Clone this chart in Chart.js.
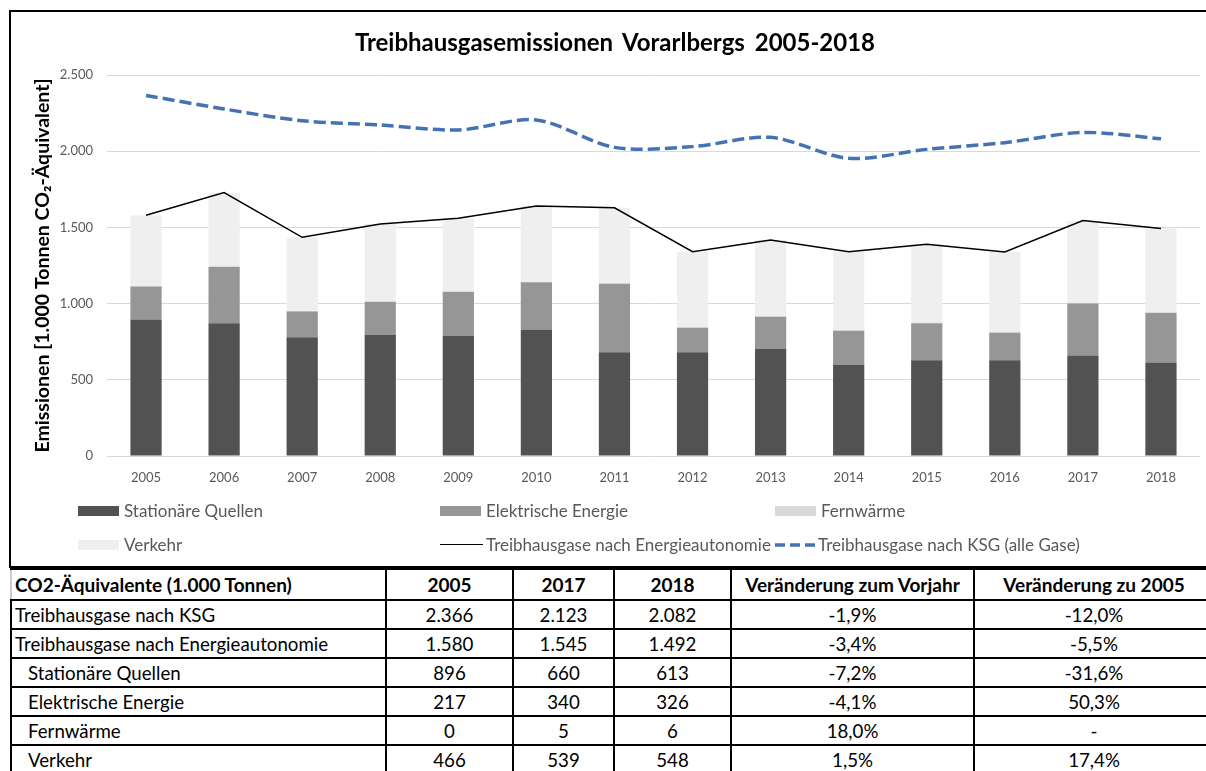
<!DOCTYPE html>
<html lang="de">
<head>
<meta charset="utf-8">
<title>Treibhausgasemissionen Vorarlbergs 2005-2018</title>
<script src="https://cdn.jsdelivr.net/npm/chart.js@4.4.1/dist/chart.umd.min.js"></script>
<style>
  body { margin: 0; background: #fff; font-family: Lato, "Open Sans", sans-serif; }
  #wrap { position: relative; width: 1206px; height: 771px; overflow: hidden; }
  #box { position: absolute; left: 9px; top: 10px; width: 1200px; height: 554px; border: 2px solid #000; border-right: none; }
  #box canvas { position: absolute; left: 0; top: 0; }
  #titel { position: absolute; left: 0; width: 1230px; top: 27px; text-align: center; font-weight: bold; font-size: 24px; word-spacing: 4px; color: #000; }
  #legende { position: absolute; left: 78px; top: 500px; display: grid; grid-template-columns: 362px 335px auto; row-gap: 13px; font-size: 17px; color: #595959; }
  .li { display: flex; align-items: center; height: 21px; white-space: nowrap; }
  .sw { width: 41px; height: 10px; margin-right: 5px; }
  .ln { width: 43px; height: 0; margin-right: 3px; }
  table { position: absolute; left: 10px; top: 568px; border-collapse: collapse; font-size: 18.7px; color: #000; table-layout: fixed; }
  td, th { border: 2px solid #000; padding: 0; height: 27px; text-align: center; font-weight: normal; white-space: nowrap; }
  th { font-weight: bold; height: 29px; font-size: 19px; }
  td:first-child, th:first-child { text-align: left; padding-left: 3px; }
  th:first-child { border-left-color: #ccc; }
  td.sub { padding-left: 16px; }
</style>
</head>
<body>
<div id="wrap">
  <div id="box"><canvas id="chart" width="1195" height="554"></canvas></div>
  <div id="titel">Treibhausgasemissionen Vorarlbergs 2005-2018</div>
  <div id="legende"></div>
  <table id="tabelle"></table>
</div>
<script>
// Werte in 1.000 Tonnen CO2-Äquivalent
const jahre = ['2005', '2006', '2007', '2008', '2009', '2010', '2011', '2012', '2013', '2014', '2015', '2016', '2017', '2018'];
const stationaer = [896, 871, 779, 794, 787, 827, 680, 680, 702, 597, 628, 628, 660, 613];
const elektrisch = [217, 371, 170, 218, 291, 313, 451, 162, 212, 225, 243, 181, 340, 326];
const fernwaerme = [0, 0, 0, 0, 1, 1, 2, 3, 3, 4, 4, 4, 5, 6];
const verkehr = [466, 486, 486, 510, 481, 499, 496, 496, 500, 515, 514, 526, 539, 548];
const energieautonomie = [1580, 1728, 1435, 1522, 1560, 1640, 1629, 1341, 1417, 1341, 1389, 1339, 1545, 1492];
const ksg = [2366, 2277, 2200, 2172, 2139, 2205, 2025, 2030, 2091, 1953, 2012, 2056, 2123, 2082];

// Tabelle
const tabKopf = ['CO2-Äquivalente (1.000 Tonnen)', '2005', '2017', '2018', 'Veränderung zum Vorjahr', 'Veränderung zu 2005'];
const tabZeilen = ['Treibhausgase nach KSG', 'Treibhausgase nach Energieautonomie', 'Stationäre Quellen', 'Elektrische Energie', 'Fernwärme', 'Verkehr'];
const tab2005 = ['2.366', '1.580', '896', '217', '0', '466'];
const tab2017 = ['2.123', '1.545', '660', '340', '5', '539'];
const tab2018 = ['2.082', '1.492', '613', '326', '6', '548'];
const tabVorjahr = ['-1,9%', '-3,4%', '-7,2%', '-4,1%', '18,0%', '1,5%'];
const tabZu2005 = ['-12,0%', '-5,5%', '-31,6%', '50,3%', '-', '17,4%'];
const spaltenBreiten = [375, 127, 101, 117, 243, 240];

const farben = { stat: '#525252', elek: '#969696', fern: '#d9d9d9', verk: '#efefef', ea: '#000000', ksg: '#4472b4' };

function tausender(v) {
    if (v < 1000) return String(v);
    return Math.floor(v / 1000) + '.' + String(v % 1000).padStart(3, '0');
}

Chart.defaults.font.family = 'Lato, "Open Sans", sans-serif';

const ctx = document.getElementById('chart').getContext('2d');
new Chart(ctx, {
    type: 'bar',
    data: {
        labels: jahre,
        datasets: [
            { type: 'line', label: 'Treibhausgase nach KSG (alle Gase)', data: ksg, stack: 'ksg', order: 0,
              borderColor: farben.ksg, borderWidth: 3.5, borderDash: [12, 5], pointRadius: 0, tension: 0.3, fill: false },
            { type: 'line', label: 'Treibhausgase nach Energieautonomie', data: energieautonomie, stack: 'ea', order: 1,
              borderColor: farben.ea, borderWidth: 1.5, pointRadius: 0, tension: 0, fill: false },
            { label: 'Stationäre Quellen', data: stationaer, backgroundColor: farben.stat, stack: 'sum', order: 2 },
            { label: 'Elektrische Energie', data: elektrisch, backgroundColor: farben.elek, stack: 'sum', order: 2 },
            { label: 'Fernwärme', data: fernwaerme, backgroundColor: farben.fern, stack: 'sum', order: 2 },
            { label: 'Verkehr', data: verkehr, backgroundColor: farben.verk, stack: 'sum', order: 2 }
        ]
    },
    options: {
        responsive: false,
        animation: false,
        layout: { padding: { top: 63, left: 0, right: 6, bottom: 80 } },
        datasets: { bar: { barPercentage: 0.4, categoryPercentage: 1 } },
        plugins: { legend: { display: false }, tooltip: { enabled: false }, title: { display: false } },
        scales: {
            x: {
                stacked: true,
                grid: { display: false },
                border: { display: false },
                ticks: { color: '#595959', font: { size: 13 }, padding: 6, maxRotation: 0 },
                afterFit: s => { s.height = 30; }
            },
            y: {
                stacked: true,
                min: 0, max: 2500,
                grid: { color: '#d9d9d9', drawTicks: false },
                border: { display: false },
                ticks: { stepSize: 500, color: '#595959', font: { size: 13 }, padding: 14, callback: v => tausender(v) },
                title: { display: true, text: 'Emissionen [1.000 Tonnen CO₂-Äquivalent]', color: '#000',
                         font: { size: 19.5, weight: 'bold' }, padding: { top: 20, bottom: 0 } },
                afterFit: s => { s.width = 96; }
            }
        }
    }
});

// Legende
const legendeItems = [
    { text: 'Stationäre Quellen', art: 'box', farbe: farben.stat },
    { text: 'Elektrische Energie', art: 'box', farbe: farben.elek },
    { text: 'Fernwärme', art: 'box', farbe: farben.fern },
    { text: 'Verkehr', art: 'box', farbe: farben.verk },
    { text: 'Treibhausgase nach Energieautonomie', art: 'linie', farbe: farben.ea },
    { text: 'Treibhausgase nach KSG (alle Gase)', art: 'strich', farbe: farben.ksg }
];
document.getElementById('legende').innerHTML = legendeItems.map(it => {
    let sym;
    if (it.art === 'box') sym = `<span class="sw" style="background:${it.farbe}"></span>`;
    else if (it.art === 'linie') sym = `<span class="ln" style="border-top:1.5px solid ${it.farbe}"></span>`;
    else sym = `<svg class="ln" width="40" height="4" style="height:4px;width:40px"><line x1="0" y1="2" x2="40" y2="2" stroke="${it.farbe}" stroke-width="3.5" stroke-dasharray="10 5"/></svg>`;
    return `<div class="li">${sym}<span>${it.text}</span></div>`;
}).join('');

// Tabelle aufbauen
let html = '<colgroup>' + spaltenBreiten.map(b => `<col style="width:${b}px">`).join('') + '</colgroup>';
html += '<tr>' + tabKopf.map(t => `<th>${t}</th>`).join('') + '</tr>';
html += tabZeilen.map((z, i) => `
    <tr>
        <td class="${i > 1 ? 'sub' : ''}">${z}</td>
        <td>${tab2005[i]}</td><td>${tab2017[i]}</td><td>${tab2018[i]}</td>
        <td>${tabVorjahr[i]}</td><td>${tabZu2005[i]}</td>
    </tr>`).join('');
const tab = document.getElementById('tabelle');
tab.innerHTML = html;
tab.style.width = spaltenBreiten.reduce((a, b) => a + b, 0) + 'px';
</script>
</body>
</html>
